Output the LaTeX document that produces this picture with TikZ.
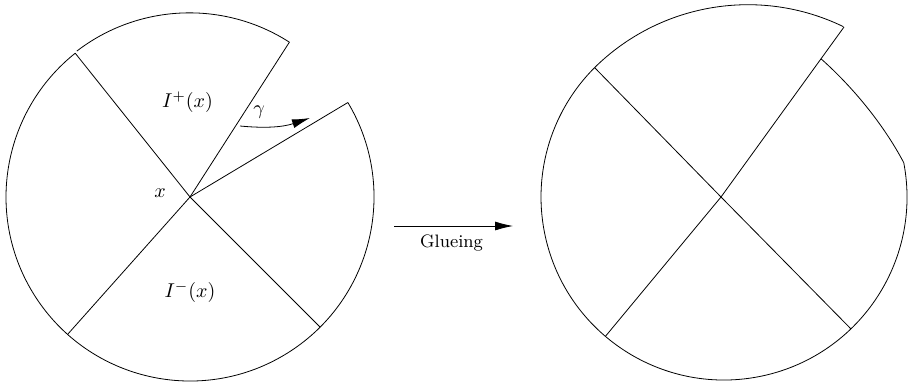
\documentclass[tikz,border=0pt]{standalone}
\usepackage{amsmath}
\usepackage{amssymb}
\usepackage{tikz}
\usetikzlibrary{calc}
\usetikzlibrary{arrows.meta}

\begin{document}
\begin{tikzpicture}[x=50pt,y=50pt,>={Latex[length=9pt,width=4.5pt]}]
        \useasboundingbox (0,0) rectangle (9.09,3.82);
        \coordinate (X) at (1.90,1.85);
        \coordinate (A) at ($(X) + (128.6:1.84)$);
        \coordinate (B) at ($(X) + (57.3:1.84)$);
        \coordinate (B2) at ($(X) + (30.9:1.84)$);
        \coordinate (C) at ($(X) + (-45:1.84)$);
        \coordinate (D) at ($(X) + (228.3:1.84)$);

        \draw (B2) arc[start angle=30.9, end angle=-231.4, radius=1.84];
        \draw (B) arc[start angle=57.3, end angle=127.5, radius=1.85];
        \draw (A) -- (X) -- (C);
        \draw (B) -- (X) -- (D);
        \draw (X) -- (B2);

        \node (Ip) at (1.875,2.80) {$I^+(x)$};
        \node (Im) at (1.90,0.90) {$I^-(x)$};
        \node (x) at (1.60,1.89) {$x$};
        \node (gamma) at (2.59,2.70) {$\gamma$};
        \coordinate (R) at (2.40,2.56);
        \coordinate (R2) at (3.10,2.64);
        \draw[->] (R) to[bend right=12] (R2);

        \coordinate (M) at (3.94,1.56);
        \coordinate (M2) at (5.13,1.56);
        \draw[->] (M) -- (M2);
        \node (glue) at (4.515,1.39) {\small Glueing};

        \coordinate (Y) at (7.21,1.85);
        \coordinate (Z) at (7.24,1.85);
        \coordinate (E) at ($(Z) + (135:1.83)$);
        \coordinate (F) at ($(Z) + (-46.1:1.83)$);
        \coordinate (G) at ($(Z) + (229.6:1.83)$);
        \coordinate (H) at (8.44,3.55);
        \coordinate (H2) at ($(Y)!0.813!(H)$);
        \coordinate (K) at ($(Z) + (10.8:1.83)$);

        \draw (K) arc[start angle=10.8, end angle=-225, radius=1.83];
        \draw (E) arc[start angle=134.6, end angle=64.1, radius=2.184];
        \draw (H2) .. controls (8.55,2.93) and (8.85,2.55) .. (K);
        \draw (E) -- (Y) -- (F);
        \draw (H) -- (Y) -- (G);
\end{tikzpicture}
\end{document}
